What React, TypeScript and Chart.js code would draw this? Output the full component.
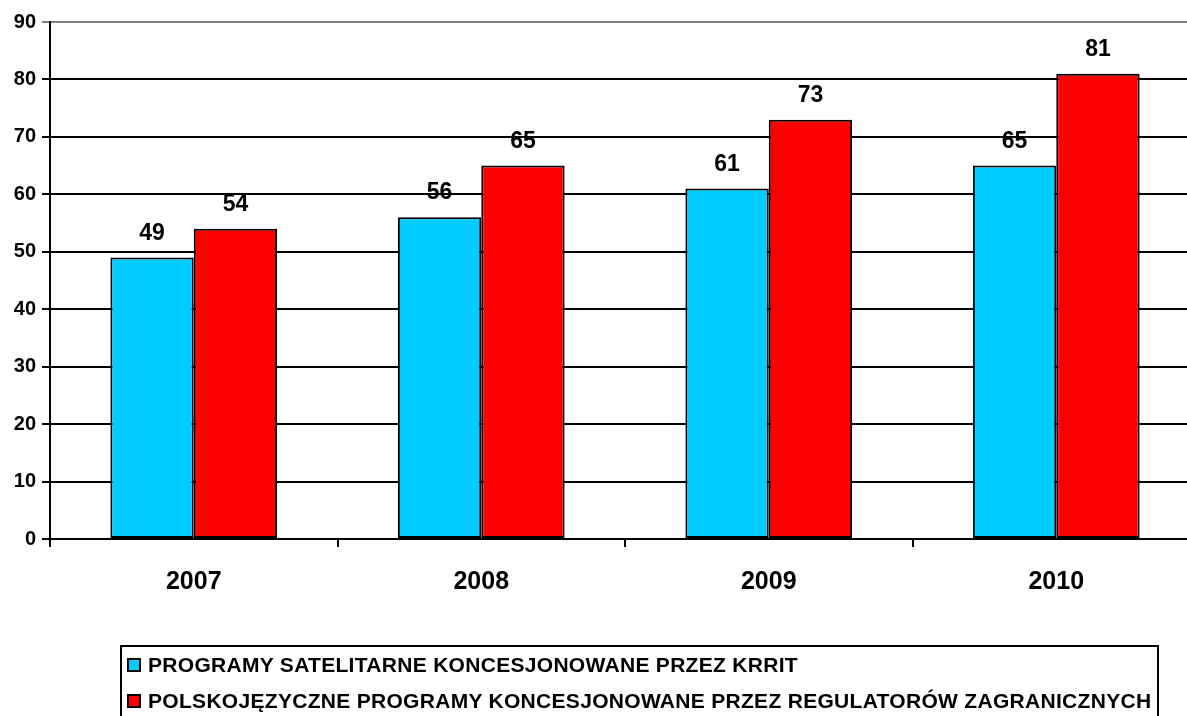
import React, { useEffect, useRef } from "react";
import { Chart, registerables } from "chart.js";

Chart.register(...registerables);

const categories = ["2007", "2008", "2009", "2010"];
const seriesNames = [
  "PROGRAMY SATELITARNE KONCESJONOWANE PRZEZ KRRIT",
  "POLSKOJĘZYCZNE PROGRAMY KONCESJONOWANE PRZEZ REGULATORÓW ZAGRANICZNYCH",
];
const krritValues = [49, 56, 61, 65];
const foreignValues = [54, 65, 73, 81];
const seriesColors = ["#00CCFF", "#FF0000"];

const FONT = "Arial, 'Liberation Sans', sans-serif";

const valueLabels = {
  id: "valueLabels",
  afterDatasetsDraw(chart: any) {
    const ctx = chart.ctx;
    ctx.save();
    ctx.font = `bold 23px ${FONT}`;
    ctx.fillStyle = "#000";
    ctx.textAlign = "center";
    ctx.textBaseline = "alphabetic";
    chart.data.datasets.forEach((ds: any, i: number) => {
      const meta = chart.getDatasetMeta(i);
      meta.data.forEach((bar: any, j: number) => {
        ctx.fillText(String(ds.data[j]), bar.x, bar.y - 18);
      });
    });
    ctx.restore();
  },
};

export default function App() {
  const ref = useRef<HTMLCanvasElement | null>(null);
  useEffect(() => {
    const prevMargin = document.body.style.margin;
    document.body.style.margin = "0";
    const chart = new Chart(ref.current as HTMLCanvasElement, {
      type: "bar",
      data: {
        labels: categories,
        datasets: [
          {
            label: seriesNames[0],
            data: krritValues,
            backgroundColor: seriesColors[0],
            borderColor: "#000",
            borderWidth: 2,
            borderSkipped: false,
          },
          {
            label: seriesNames[1],
            data: foreignValues,
            backgroundColor: seriesColors[1],
            borderColor: "#000",
            borderWidth: 2,
            borderSkipped: false,
          },
        ],
      },
      options: {
        responsive: false,
        animation: false,
        categoryPercentage: 0.58,
        barPercentage: 1,
        layout: { padding: { top: 22, right: 0, left: 0, bottom: 0 } },
        plugins: {
          legend: { display: false },
          tooltip: { enabled: false },
        },
        scales: {
          x: {
            grid: {
              offset: true,
              drawOnChartArea: false,
              drawTicks: true,
              tickLength: 8,
              color: "#000",
              lineWidth: 2,
            },
            border: { color: "#000", width: 2 },
            ticks: {
              color: "#000",
              font: { family: FONT, size: 25, weight: "bold" },
              padding: 20,
              maxRotation: 0,
            },
            afterFit(scale: any) {
              scale.height = 177;
            },
          },
          y: {
            min: 0,
            max: 90,
            ticks: {
              stepSize: 10,
              color: "#000",
              font: { family: FONT, size: 20, weight: "bold" },
              padding: 6,
            },
            grid: {
              color: (c: any) => (c.tick && c.tick.value === 90 ? "#808080" : "#000"),
              lineWidth: 2,
              tickLength: 8,
            },
            border: { color: "#000", width: 2 },
            afterFit(scale: any) {
              scale.width = 50;
            },
          },
        },
      },
      plugins: [valueLabels],
    });
    return () => {
      chart.destroy();
      document.body.style.margin = prevMargin;
    };
  }, []);

  return (
    <div
      style={{
        position: "fixed",
        left: 0,
        top: 0,
        width: 1187,
        height: 716,
        overflow: "hidden",
        background: "#fff",
        fontFamily: FONT,
      }}
    >
      <canvas ref={ref} width={1200} height={716} style={{ position: "absolute", left: 0, top: 0 }} />
      <div
        style={{
          position: "absolute",
          left: 120,
          top: 645,
          width: 1039,
          height: 100,
          border: "2px solid #000",
          boxSizing: "border-box",
        }}
      >
        {seriesNames.map((name, i) => (
          <div
            key={name}
            style={{
              position: "absolute",
              left: 5,
              top: 6 + i * 36,
              height: 24,
              display: "flex",
              alignItems: "center",
              fontWeight: "bold",
              fontSize: 21,
              letterSpacing: "0.3px",
              color: "#000",
              whiteSpace: "nowrap",
            }}
          >
            <span
              style={{
                display: "inline-block",
                width: 10,
                height: 10,
                background: seriesColors[i],
                border: "2px solid #000",
                marginRight: 7,
              }}
            />
            {name}
          </div>
        ))}
      </div>
    </div>
  );
}
